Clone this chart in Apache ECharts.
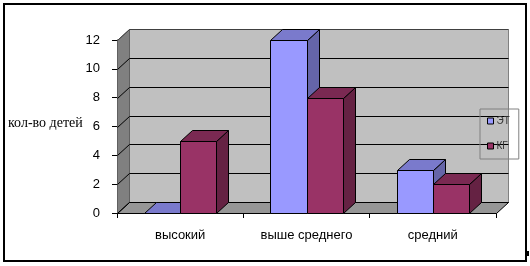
<!DOCTYPE html>
<html><head><meta charset="utf-8">
<script src="https://cdn.jsdelivr.net/npm/echarts@6/dist/echarts.min.js"></script>
<style>html,body{margin:0;padding:0;background:#fff;overflow:hidden}#c{position:absolute;left:0;top:0;width:530px;height:266px}</style>
</head><body><div id="c"></div>
<script>
// ---- data ----
const categories = ['высокий', 'выше среднего', 'средний'];
const seriesNames = ['ЭТ', 'КГ'];
const valuesET = [0, 12, 3];
const valuesKG = [5, 8, 2];
const yTicks = [0, 2, 4, 6, 8, 10, 12];
const yAxisTitle = 'кол-во детей';

// ---- style ----
const DX = 12, DY = -11;
const palette = [
  { front: '#9999FF', top: '#7A7ACC', side: '#6565A8' },
  { front: '#993366', top: '#7A2952', side: '#652243' }
];
const font = "'Liberation Sans', Arial, sans-serif";

function barRender(sIdx) {
  const col = palette[sIdx];
  return function (params, api) {
    const cat = api.value(0), v = api.value(1);
    const band = api.size([1, 0])[0];
    const w = band / 3.5;
    const c = api.coord([cat, v]);
    const b = api.coord([cat, 0]);
    const x0 = Math.round(c[0] - w + sIdx * w) + 0.5;
    const x1 = Math.round(c[0] + sIdx * w) + 0.5;
    const yt = Math.round(c[1]) + 0.5, yb = Math.round(b[1]) + 0.5;
    const st = { stroke: '#000', lineWidth: 1, lineJoin: 'round' };
    const ch = [];
    ch.push({ type: 'polygon', shape: { points: [[x1, yt], [x1 + DX, yt + DY], [x1 + DX, yb + DY], [x1, yb]] }, style: Object.assign({ fill: col.side }, st) });
    ch.push({ type: 'polygon', shape: { points: [[x0, yt], [x1, yt], [x1 + DX, yt + DY], [x0 + DX, yt + DY]] }, style: Object.assign({ fill: col.top }, st) });
    if (yb - yt > 0.6) {
      ch.push({ type: 'polygon', shape: { points: [[x0, yt], [x1, yt], [x1, yb], [x0, yb]] }, style: Object.assign({ fill: col.front }, st) });
    }
    return { type: 'group', children: ch };
  };
}

function wallRender(params, api) {
  const band = api.size([1, 0])[0];
  const xl = Math.round(api.coord([0, 0])[0] - band / 2) + 0.5;
  const xr = Math.round(api.coord([categories.length - 1, 0])[0] + band / 2) + 0.5;
  const yb = Math.round(api.coord([0, yTicks[0]])[1]) + 0.5;
  const ytop = Math.round(api.coord([0, yTicks[yTicks.length - 1]])[1]) + 0.5;
  const ch = [];
  ch.push({ type: 'rect', shape: { x: xl + DX, y: ytop + DY, width: xr - xl, height: yb - ytop }, style: { fill: '#C0C0C0', stroke: '#808080', lineWidth: 1 } });
  ch.push({ type: 'polygon', shape: { points: [[xl, ytop], [xl + DX, ytop + DY], [xl + DX, yb + DY], [xl, yb]] }, style: { fill: '#808080', stroke: '#606060', lineWidth: 1 } });
  ch.push({ type: 'polygon', shape: { points: [[xl, yb], [xr, yb], [xr + DX, yb + DY], [xl + DX, yb + DY]] }, style: { fill: '#969696', stroke: '#000', lineWidth: 1 } });
  yTicks.forEach(function (t) {
    const y = Math.round(api.coord([0, t])[1]) + 0.5;
    const clr = t === yTicks[yTicks.length - 1] ? '#404040' : '#000';
    ch.push({ type: 'polyline', shape: { points: [[xl, y], [xl + DX, y + DY], [xr + DX, y + DY]] }, style: { stroke: clr, lineWidth: 1, fill: null } });
  });
  return { type: 'group', children: ch };
}

const chart = echarts.init(document.getElementById('c'), null, { renderer: 'canvas', width: 530, height: 266 });
chart.setOption({
  animation: false,
  backgroundColor: '#fff',
  grid: { left: 117, right: 34, top: 40, bottom: 53, containLabel: false },
  legend: {
    orient: 'vertical', left: 480, top: 109,
    data: seriesNames.map(function (n, i) {
      return { name: n, icon: 'rect', itemStyle: { color: palette[i].front, borderColor: '#000', borderWidth: 1 } };
    }),
    itemWidth: 6, itemHeight: 6, itemGap: 15,
    padding: [7, 9, 8, 7],
    borderColor: '#808080', borderWidth: 1,
    textStyle: { fontFamily: font, fontSize: 10, color: '#333', padding: [0, 0, 0, -2], lineHeight: 10 }
  },
  xAxis: {
    type: 'category', data: categories,
    axisLine: { show: true, lineStyle: { color: '#000', width: 1 } },
    axisTick: { show: true, length: 5, lineStyle: { color: '#000' } },
    axisLabel: { margin: 16, color: '#000', fontFamily: font, fontSize: 13 },
    splitLine: { show: false }
  },
  yAxis: {
    type: 'value', min: 0, max: 12, interval: 2,
    axisLine: { show: true, lineStyle: { color: '#000', width: 1 } },
    axisTick: { show: true, length: 5, lineStyle: { color: '#000' } },
    axisLabel: { margin: 17, color: '#000', fontFamily: font, fontSize: 13 },
    splitLine: { show: false }
  },
  graphic: {
    elements: [
      { type: 'text', left: 8, top: 116, style: { text: yAxisTitle, font: "14px 'Liberation Serif', serif", fill: '#000' }, z: 50, silent: true },
      { type: 'rect', left: 3, top: 3, shape: { width: 524, height: 2 }, style: { fill: '#000' }, z: 100, silent: true },
      { type: 'rect', left: 3, top: 3, shape: { width: 2, height: 259 }, style: { fill: '#000' }, z: 100, silent: true },
      { type: 'rect', left: 3, top: 260, shape: { width: 524, height: 2 }, style: { fill: '#000' }, z: 100, silent: true },
      { type: 'rect', left: 525, top: 3, shape: { width: 2, height: 259 }, style: { fill: '#000' }, z: 100, silent: true },
      { type: 'rect', left: 527, top: 251, shape: { width: 2, height: 5 }, style: { fill: '#000' }, z: 100, silent: true }
    ]
  },
  series: [
    { type: 'custom', name: '_walls', renderItem: wallRender, data: [[0, 0]], z: 1, silent: true },
    { type: 'custom', name: seriesNames[0], renderItem: barRender(0), data: valuesET.map(function (v, i) { return [i, v]; }), z: 2,
      itemStyle: { color: palette[0].front, borderColor: '#000', borderWidth: 1 } },
    { type: 'custom', name: seriesNames[1], renderItem: barRender(1), data: valuesKG.map(function (v, i) { return [i, v]; }), z: 3,
      itemStyle: { color: palette[1].front, borderColor: '#000', borderWidth: 1 } }
  ]
});
</script>
</body></html>
